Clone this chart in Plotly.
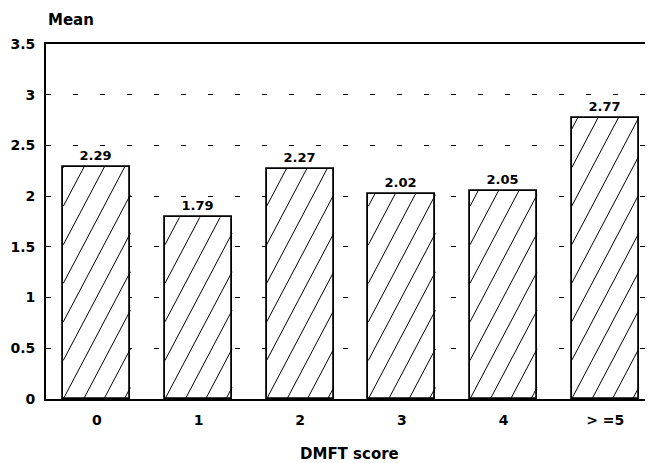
import plotly.graph_objects as go

categories = ["0", "1", "2", "3", "4", ">=5"]
means = [2.29, 1.79, 2.27, 2.02, 2.05, 2.77]
labels = ["2.29", "1.79", "2.27", "2.02", "2.05", "2.77"]
y_ticks = [0, 0.5, 1, 1.5, 2, 2.5, 3, 3.5]
y_ticktext = ["0", "0.5", "1", "1.5", "2", "2.5", "3", "3.5"]
x_ticktext = ["0", "1", "2", "3", "4", "> =5"]

FONT = "DejaVu Sans, Liberation Sans, Arial, sans-serif"
BAR_W = 0.66
HATCH_SLOPE = 1.9      # rise per x-unit (axes have ~equal px per unit)
HATCH_STEP = 0.2       # horizontal spacing of hatch lines in x-units

xs = list(range(len(categories)))

# Build steep diagonal hatch lines clipped to each bar (derived from the data)
hx, hy = [], []
for c, v in zip(xs, means):
    x0, x1 = c - BAR_W / 2, c + BAR_W / 2
    b = x0 - int((v / HATCH_SLOPE) / HATCH_STEP + 1) * HATCH_STEP
    while b < x1:
        xa = max(x0, b)
        xb = min(x1, b + v / HATCH_SLOPE)
        if xb > xa:
            hx += [xa, xb, None]
            hy += [HATCH_SLOPE * (xa - b), HATCH_SLOPE * (xb - b), None]
        b += HATCH_STEP

fig = go.Figure()
fig.add_trace(go.Bar(
    x=xs,
    y=means,
    width=BAR_W,
    text=["<b>" + t + "</b>" for t in labels],
    textposition="outside",
    textfont=dict(family=FONT, size=13, color="black"),
    cliponaxis=False,
    marker=dict(color="white", line=dict(color="black", width=1.8)),
    hoverinfo="skip",
))
fig.add_trace(go.Scatter(
    x=hx, y=hy, mode="lines",
    line=dict(color="black", width=1),
    hoverinfo="skip", connectgaps=False,
))

fig.update_layout(
    width=645, height=455,
    margin=dict(l=38, r=0, t=36, b=64),
    paper_bgcolor="white", plot_bgcolor="white",
    showlegend=False,
    bargap=0,
    font=dict(family=FONT, color="black"),
    xaxis=dict(
        range=[-0.5, 5.47],
        tickmode="array",
        tickvals=xs,
        ticktext=["<b>" + t + "</b>" for t in x_ticktext],
        tickfont=dict(family=FONT, size=14, color="black"),
        ticklabelstandoff=7,
        showgrid=False, zeroline=False,
        showline=True, linecolor="black", linewidth=1.8, mirror=True,
        ticks="",
        fixedrange=True,
    ),
    yaxis=dict(
        range=[0, 3.5],
        tickmode="array",
        tickvals=y_ticks,
        ticktext=["<b>" + t + "</b>" for t in y_ticktext],
        tickfont=dict(family=FONT, size=14, color="black"),
        ticklabelstandoff=6,
        showgrid=True, gridcolor="black", gridwidth=1, griddash="5px,22px",
        zeroline=False,
        showline=True, linecolor="black", linewidth=1.8,
        ticks="",
        fixedrange=True,
    ),
    annotations=[
        dict(
            text="<b>Mean</b>", x=0, xref="paper", y=1, yref="paper",
            xanchor="left", yanchor="bottom", yshift=13, showarrow=False,
            font=dict(family=FONT, size=15, color="black"),
        ),
        dict(
            text="<b>DMFT score</b>", x=0.5, xref="paper", y=0, yref="paper",
            xanchor="center", yanchor="top", yshift=-44, showarrow=False,
            font=dict(family=FONT, size=15, color="black"),
        ),
    ],
)

fig.write_html("out.html")
